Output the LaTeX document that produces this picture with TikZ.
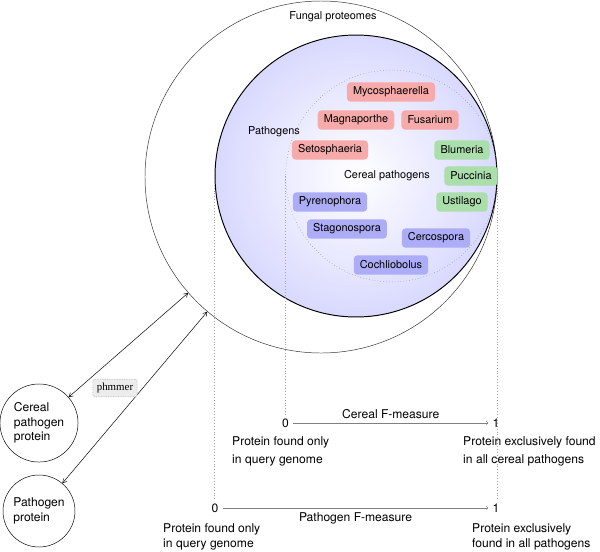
\documentclass[tikz,border=0pt]{standalone}
\usepackage{fontspec}
\setmainfont{TeX Gyre Heros}
\newfontfamily\phmmerfont{Liberation Serif}
\usepackage{tikz}
\usetikzlibrary{positioning}
\usetikzlibrary{arrows,shapes}
\definecolor{redbox}{RGB}{247,170,170}
\definecolor{greenbox}{RGB}{170,222,170}
\definecolor{bluebox}{RGB}{172,172,247}
\tikzstyle{setcircle}=[circle,draw,inner sep=0pt]
\tikzstyle{species}=[rounded corners=3pt,inner xsep=5pt,minimum height=16pt,font=\small]
\tikzstyle{protein}=[circle,draw,inner sep=1pt,align=left]
\tikzstyle{search} = [draw,<->,>=angle 60]
\tikzstyle{axis} = [draw=gray,->]
\tikzstyle{guide} = [draw=gray!70,dotted]
\tikzstyle{desc} = [align=left,anchor=west,inner xsep=0pt]

\begin{document}
\begin{tikzpicture}[x=0.8264pt,y=0.8264pt]
\useasboundingbox (0,0) rectangle (600,-551);

%sets
    \node[setcircle, draw=black!80, minimum size=290.9pt] (fungal) at (321,-177) {};
    \node[setcircle, thick, shade, inner color=white, outer color=blue!15, minimum size=233pt] (pathogens) at (356,-176) {};
    \node[setcircle, dotted, draw=gray, minimum size=175pt] (cereal) at (391.5,-176) {};

    \node (fungallabel) at (333,-17) {\small Fungal proteomes};
    \node (pathlabel) at (274,-132) {\small Pathogens};
    \node (cereallabel) at (387,-176) {\small Cereal pathogens};

  \foreach \pos/\name/\label in {{(391,-92)/myco/Mycosphaerella}, {(356,-120)/magna/Magnaporthe}, {(430,-120)/fusa/Fusarium}, {(330,-150)/seto/Setosphaeria}}
        \node[species, fill=redbox] (\name) at \pos {\label};

  \foreach \pos/\name/\label in {{(462,-150)/blum/Blumeria}, {(471,-176)/pucc/Puccinia}, {(462,-202)/usti/Ustilago}}
        \node[species, fill=greenbox] (\name) at \pos {\label};

  \foreach \pos/\name/\label in {{(330,-202)/pyre/Pyrenophora}, {(347,-229)/stag/Stagonospora}, {(436,-238)/cerc/Cercospora}, {(391,-265)/coch/Cochliobolus}}
        \node[species, fill=bluebox] (\name) at \pos {\label};

%query proteins
    \node[protein, minimum size=64.5pt] (cerealprot) at (39,-423) {Cereal\\pathogen\\protein};
    \node[protein, minimum size=59.5pt] (pathprot) at (39,-511) {Pathogen\\protein};

    \path[search] (cerealprot) -- (fungal);
    \path[search] (pathprot) -- (fungal);
    \node[draw=gray, densely dotted, fill=gray!15, rounded corners=2pt, font=\phmmerfont\small] (phmmer) at (115,-388) {phmmer};

%F-measure axes
    \node (c0) at (285.5,-423) {0};
    \node (c1) at (496,-423) {1};
    \path[axis] (c0) -- node[above] {Cereal F-measure} (c1);

    \node (p0) at (215,-508) {0};
    \node (p1) at (496,-508) {1};
    \path[axis] (p0) -- node[below] {Pathogen F-measure} (p1);

    \node[desc] (cerealq) at (232,-451) {Protein found only\\[3pt]in query genome};
    \node[desc] (cerealall) at (463,-451) {Protein exclusively found\\[3pt]in all cereal pathogens};
    \node[desc] (pathq) at (163,-537) {Protein found only\\in query genome};
    \node[desc] (pathall) at (472,-537) {Protein exclusively\\found in all pathogens};

    \path[guide] (pathogens.west) -- (pathogens.west |- p0.north);
    \path[guide] (cereal.west) -- (cereal.west |- c0.north);
    \path[guide] (pathogens.east) -- (pathogens.east |- p1.north);

\end{tikzpicture}
\end{document}
